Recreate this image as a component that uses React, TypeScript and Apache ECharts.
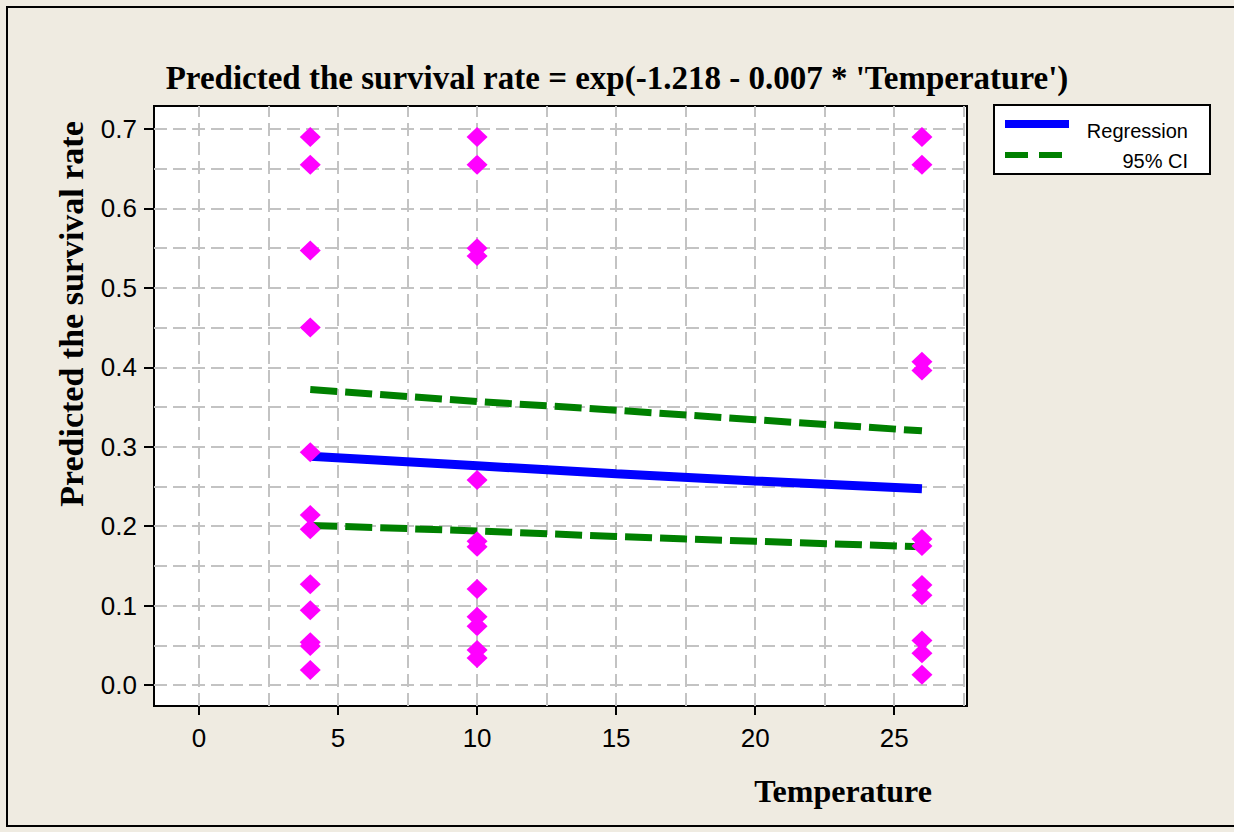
import React, { useEffect, useRef } from "react";
import * as echarts from "echarts";

// ---- data ----
const regressionTemperature = [4, 10, 15, 20, 26];
const regressionRate = [0.288, 0.276, 0.266, 0.257, 0.247];

const ciTemperature = [4, 10, 15, 20, 26];
const ciUpperRate = [0.372, 0.357, 0.346, 0.334, 0.32];
const ciLowerRate = [0.201, 0.194, 0.187, 0.181, 0.174];

const obsTemperature = [
  4, 4, 4, 4, 4, 4, 4, 4, 4, 4, 4, 4,
  10, 10, 10, 10, 10, 10, 10, 10, 10, 10, 10, 10,
  26, 26, 26, 26, 26, 26, 26, 26, 26, 26, 26,
];
const obsRate = [
  0.69, 0.655, 0.547, 0.45, 0.293, 0.214, 0.196, 0.127, 0.094, 0.054, 0.049, 0.019,
  0.69, 0.655, 0.55, 0.54, 0.258, 0.181, 0.174, 0.121, 0.086, 0.074, 0.044, 0.034,
  0.69, 0.655, 0.407, 0.396, 0.184, 0.175, 0.126, 0.113, 0.056, 0.04, 0.013,
];

const xTickValues = [0, 5, 10, 15, 20, 25];
const yTickValues = [0.0, 0.1, 0.2, 0.3, 0.4, 0.5, 0.6, 0.7];
const xGridValues = [0, 2.5, 5, 7.5, 10, 12.5, 15, 17.5, 20, 22.5, 25, 27.5];
const yGridValues = [0, 0.05, 0.1, 0.15, 0.2, 0.25, 0.3, 0.35, 0.4, 0.45, 0.5, 0.55, 0.6, 0.65, 0.7];

const titleText = "Predicted the survival rate = exp(-1.218 - 0.007 * 'Temperature')";
const xName = "Temperature";
const yName = "Predicted the survival rate";
const legendNames = ["Regression", "95% CI"];

const zip = (xs: number[], ys: number[]) => xs.map((x, i) => [x, ys[i]]);

export default function App() {
  const ref = useRef<HTMLDivElement>(null);

  useEffect(() => {
    if (!ref.current) return;
    const chart = echarts.init(ref.current, undefined, { renderer: "svg" });
    const sans = "Liberation Sans";
    const serif = "Liberation Serif";

    const option: any = {
      animation: false,
      backgroundColor: "#EFEBE1",
      title: {
        text: titleText,
        left: "center",
        top: 56,
        textStyle: { fontFamily: serif, fontWeight: "bold", fontSize: 33, color: "#000" },
      },
      grid: {
        left: 154,
        top: 106,
        width: 813,
        height: 600,
        show: true,
        backgroundColor: "#FFFFFF",
        borderColor: "#000",
        borderWidth: 2,
        containLabel: false,
      },
      xAxis: {
        type: "value",
        min: -1.62,
        max: 27.62,
        splitLine: { show: false },
        axisLine: { onZero: false, lineStyle: { color: "#000", width: 2 } },
        axisTick: { customValues: xTickValues, length: 9, lineStyle: { color: "#000", width: 2 } },
        axisLabel: {
          customValues: xTickValues,
          margin: 19,
          fontSize: 26,
          fontFamily: sans,
          color: "#000",
        },
      },
      yAxis: {
        type: "value",
        min: -0.0264,
        max: 0.729,
        splitLine: { show: false },
        axisLine: { onZero: false, lineStyle: { color: "#000", width: 2 } },
        axisTick: { customValues: yTickValues, length: 10, lineStyle: { color: "#000", width: 2 } },
        axisLabel: {
          customValues: yTickValues,
          margin: 17,
          fontSize: 26,
          fontFamily: sans,
          color: "#000",
          formatter: (v: number) => v.toFixed(1),
        },
      },
      series: [
        {
          name: "grid",
          type: "line",
          data: [],
          z: 1,
          silent: true,
          markLine: {
            z: 1,
            silent: true,
            symbol: ["none", "none"],
            label: { show: false },
            emphasis: { disabled: true },
            lineStyle: { color: "#C3C3C3", width: 2, type: [13, 6] },
            data: [
              ...xGridValues.map((v) => ({ xAxis: v })),
              ...yGridValues.map((v) => ({ yAxis: v })),
            ],
          },
        },
        {
          name: legendNames[1] + " upper",
          type: "line",
          data: zip(ciTemperature, ciUpperRate),
          showSymbol: false,
          z: 3,
          lineStyle: { color: "#008000", width: 7, type: [27, 8] },
        },
        {
          name: legendNames[1] + " lower",
          type: "line",
          data: zip(ciTemperature, ciLowerRate),
          showSymbol: false,
          z: 3,
          lineStyle: { color: "#008000", width: 7, type: [27, 8] },
        },
        {
          name: legendNames[0],
          type: "line",
          data: zip(regressionTemperature, regressionRate),
          showSymbol: false,
          z: 4,
          lineStyle: { color: "#0000FF", width: 9 },
        },
        {
          name: "Observed",
          type: "scatter",
          data: zip(obsTemperature, obsRate),
          symbol: "diamond",
          symbolSize: [21, 20],
          z: 6,
          itemStyle: { color: "#FF00FF", opacity: 1 },
        },
      ],
      graphic: [
        {
          type: "rect",
          shape: { x: 7, y: 7, width: 1240, height: 819 },
          style: { fill: "none", stroke: "#000", lineWidth: 2 },
          silent: true,
        },
        {
          type: "text",
          x: 71,
          y: 314,
          rotation: Math.PI / 2,
          style: {
            text: yName,
            fontFamily: serif,
            fontWeight: "bold",
            fontSize: 34,
            fill: "#000",
            align: "center",
            verticalAlign: "middle",
          },
        },
        {
          type: "text",
          x: 843,
          y: 791,
          style: {
            text: xName,
            fontFamily: serif,
            fontWeight: "bold",
            fontSize: 32,
            fill: "#000",
            align: "center",
            verticalAlign: "middle",
          },
        },
        {
          type: "rect",
          shape: { x: 994, y: 105, width: 216, height: 69 },
          style: { fill: "#FFFFFF", stroke: "#000", lineWidth: 2 },
        },
        {
          type: "line",
          shape: { x1: 1005, y1: 124, x2: 1069, y2: 124 },
          style: { stroke: "#0000FF", lineWidth: 8 },
        },
        {
          type: "line",
          shape: { x1: 1005, y1: 155, x2: 1028, y2: 155 },
          style: { stroke: "#008000", lineWidth: 6 },
        },
        {
          type: "line",
          shape: { x1: 1039, y1: 155, x2: 1062, y2: 155 },
          style: { stroke: "#008000", lineWidth: 6 },
        },
        {
          type: "text",
          x: 1188,
          y: 131,
          style: {
            text: legendNames[0],
            fontFamily: sans,
            fontSize: 20,
            fill: "#000",
            align: "right",
            verticalAlign: "middle",
          },
        },
        {
          type: "text",
          x: 1188,
          y: 161,
          style: {
            text: legendNames[1],
            fontFamily: sans,
            fontSize: 20,
            fill: "#000",
            align: "right",
            verticalAlign: "middle",
          },
        },
      ],
    };

    chart.setOption(option);
    return () => chart.dispose();
  }, []);

  return (
    <div
      ref={ref}
      style={{ position: "absolute", left: 0, top: 0, width: 1234, height: 832 }}
    />
  );
}
